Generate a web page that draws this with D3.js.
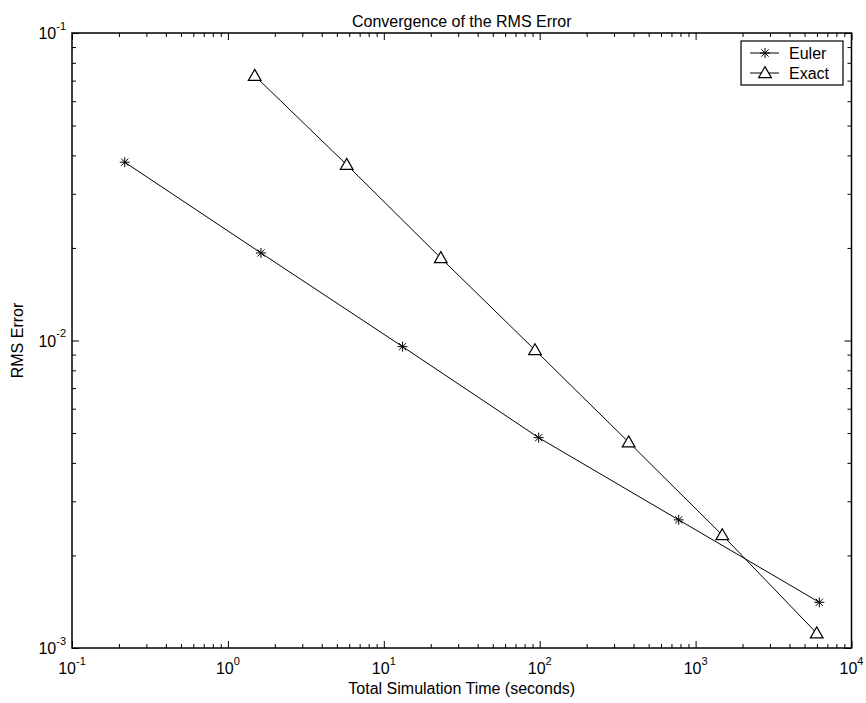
<!DOCTYPE html>
<html>
<head>
<meta charset="utf-8">
<script src="https://cdn.jsdelivr.net/npm/d3@7"></script>
<style>
  html, body { margin: 0; padding: 0; background: #fff; }
  svg { display: block; font-family: "Liberation Sans", Arial, Helvetica, sans-serif; }
</style>
</head>
<body>
<div id="chart"></div>
<script>
// values (log-log)
var eulerTime = [0.218, 1.63, 13.2, 98.5, 779, 6217];
var eulerErr  = [0.0380, 0.01926, 0.00955, 0.00483, 0.00261, 0.001408];
var exactTime = [1.486, 5.78, 23.2, 93.3, 372, 1483, 5984];
var exactErr  = [0.0726, 0.0373, 0.01855, 0.00931, 0.00467, 0.00233, 0.001117];
var xDecades = [-1, 0, 1, 2, 3, 4];
var yDecades = [-3, -2, -1];
var seriesNames = ["Euler", "Exact"];

(function () {
  var W = 866, H = 703;
  var L = 72, R = 851.5, T = 33, B = 648;

  var svg = d3.select("#chart").append("svg")
    .attr("width", W).attr("height", H);

  var x = d3.scaleLog().domain([0.1, 1e4]).range([L, R]);
  var y = d3.scaleLog().domain([1e-3, 1e-1]).range([B, T]);

  var xMajor = xDecades.map(function (e) { return Math.pow(10, e); });
  var yMajor = yDecades.map(function (e) { return Math.pow(10, e); });
  function minors(dom) {
    var out = [];
    for (var e = Math.round(Math.log10(dom[0])); e < Math.round(Math.log10(dom[1])); e++)
      for (var k = 2; k <= 9; k++) out.push(k * Math.pow(10, e));
    return out;
  }
  var xMinor = minors(x.domain()), yMinor = minors(y.domain());

  function tickAxis(axisFn, scale, vals, size) {
    return axisFn(scale).tickValues(vals).tickSizeInner(size)
      .tickSizeOuter(0).tickFormat("");
  }
  // ticks point inward on all four sides
  var defs = [
    [d3.axisBottom, x, "translate(0," + B + ")"],
    [d3.axisTop, x, "translate(0," + T + ")"],
    [d3.axisLeft, y, "translate(" + L + ",0)"],
    [d3.axisRight, y, "translate(" + R + ",0)"]
  ];
  defs.forEach(function (d) {
    var isX = d[1] === x;
    [[isX ? xMajor : yMajor, -7], [isX ? xMinor : yMinor, -4]].forEach(function (t) {
      var g = svg.append("g").attr("transform", d[2])
        .call(tickAxis(d[0], d[1], t[0], t[1]));
      g.select(".domain").remove();
      g.selectAll("line").attr("stroke", "#000").attr("stroke-width", 1);
    });
  });

  // frame
  svg.append("rect").attr("x", L).attr("y", T)
    .attr("width", R - L).attr("height", B - T)
    .attr("fill", "none").attr("stroke", "#000").attr("stroke-width", 1.5);

  // tick labels 10^n
  function powLabel(sel) {
    sel.append("tspan").text("10");
    sel.append("tspan").attr("dy", "-0.85em").attr("font-size", "11px")
      .text(function (e) { return e; });
  }
  svg.append("g").selectAll("text").data(xDecades).join("text")
    .attr("x", function (e) { return x(Math.pow(10, e)); })
    .attr("y", B + 26)
    .attr("text-anchor", "middle").attr("font-size", "16px").attr("fill", "#000")
    .call(powLabel);
  svg.append("g").selectAll("text").data(yDecades).join("text")
    .attr("x", L - 6)
    .attr("y", function (e) { return y(Math.pow(10, e)) + 6; })
    .attr("text-anchor", "end").attr("font-size", "16px").attr("fill", "#000")
    .call(powLabel);

  // axis titles
  svg.append("text").attr("x", (L + R) / 2).attr("y", B + 46)
    .attr("text-anchor", "middle").attr("font-size", "16px")
    .text("Total Simulation Time (seconds)");
  svg.append("text")
    .attr("transform", "translate(23," + (T + B) / 2 + ") rotate(-90)")
    .attr("text-anchor", "middle").attr("font-size", "16px")
    .text("RMS Error");
  svg.append("text").attr("x", (L + R) / 2).attr("y", T - 6)
    .attr("text-anchor", "middle").attr("font-size", "16px")
    .text("Convergence of the RMS Error");

  var line = d3.line()
    .x(function (d) { return x(d[0]); })
    .y(function (d) { return y(d[1]); });
  var euler = d3.zip(eulerTime, eulerErr);
  var exact = d3.zip(exactTime, exactErr);

  svg.append("path").datum(euler).attr("d", line)
    .attr("fill", "none").attr("stroke", "#000").attr("stroke-width", 1);
  svg.append("path").datum(exact).attr("d", line)
    .attr("fill", "none").attr("stroke", "#000").attr("stroke-width", 1);

  // matlab-style '*' marker: a plus and a cross
  var starType = {
    draw: function (ctx, size) {
      var r = Math.sqrt(size) / 2, q = r * 0.72;
      ctx.moveTo(-r, 0); ctx.lineTo(r, 0);
      ctx.moveTo(0, -r); ctx.lineTo(0, r);
      ctx.moveTo(-q, -q); ctx.lineTo(q, q);
      ctx.moveTo(-q, q); ctx.lineTo(q, -q);
    }
  };
  var star = d3.symbol().type(starType).size(100);
  var tri = d3.symbol().type(d3.symbolTriangle).size(70);
  function drawStar(g, cx, cy) {
    g.append("path").attr("d", star())
      .attr("transform", "translate(" + cx + "," + cy + ")")
      .attr("fill", "none").attr("stroke", "#000").attr("stroke-width", 1);
  }
  function drawTri(g, cx, cy) {
    g.append("path").attr("d", tri())
      .attr("transform", "translate(" + cx + "," + (cy + 1) + ")")
      .attr("fill", "#fff").attr("stroke", "#000").attr("stroke-width", 1.2);
  }
  var mk = svg.append("g");
  euler.forEach(function (d) { drawStar(mk, x(d[0]), y(d[1])); });
  exact.forEach(function (d) { drawTri(mk, x(d[0]), y(d[1])); });

  // legend
  var lg = svg.append("g");
  lg.append("rect").attr("x", 741).attr("y", 41).attr("width", 102).attr("height", 44)
    .attr("fill", "#fff").attr("stroke", "#000").attr("stroke-width", 1.2);
  seriesNames.forEach(function (name, i) {
    var yy = 53 + i * 20;
    lg.append("line").attr("x1", 750).attr("x2", 779).attr("y1", yy).attr("y2", yy)
      .attr("stroke", "#000").attr("stroke-width", 1);
    if (i === 0) drawStar(lg, 765, yy); else drawTri(lg, 765, yy);
    lg.append("text").attr("x", 789).attr("y", yy + 6)
      .attr("font-size", "16px").text(name);
  });
})();
</script>
</body>
</html>
